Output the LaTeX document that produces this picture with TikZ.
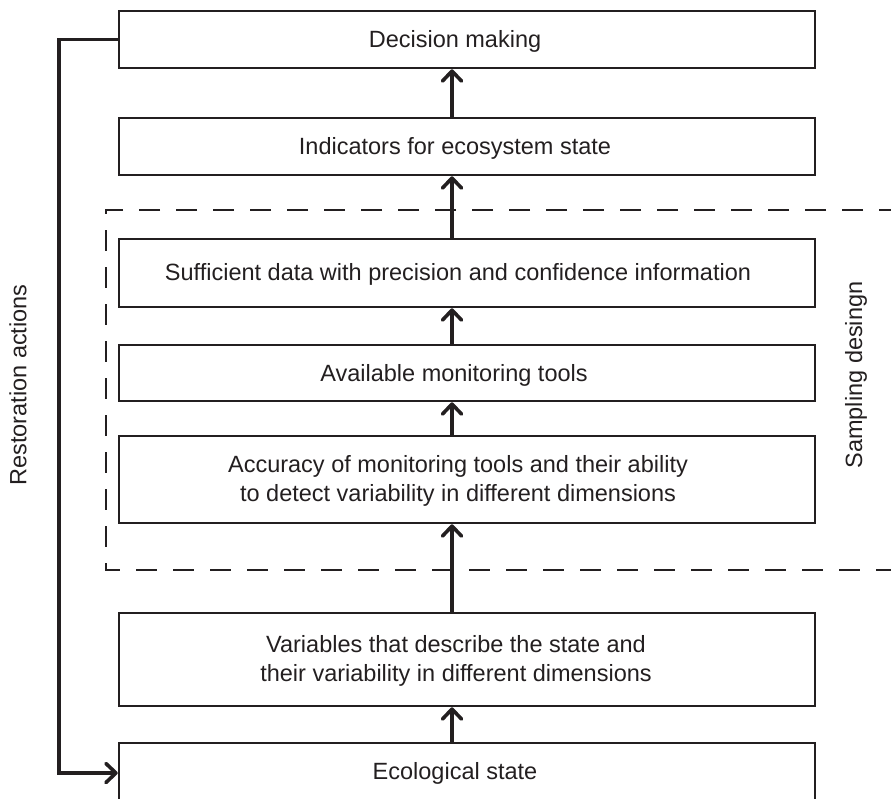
\documentclass[tikz,border=0pt]{standalone}
\usepackage{fontspec}
\setmainfont{Liberation Sans}
\usetikzlibrary{arrows.meta}
\definecolor{ink}{HTML}{231F20}
\begin{document}
\begin{tikzpicture}[x=1pt,y=-1pt,
  boxn/.style={draw=ink,line width=2.5pt,minimum width=696pt,inner sep=0pt},
  lbl/.style={text=ink,font=\fontsize{23.5}{29}\selectfont,align=center,inner sep=0pt},
  arr/.style={draw=ink,line width=3.2pt,-{Straight Barb[length=10pt,width=19pt,line width=3.6pt,round]}},
  dashbox/.style={draw=ink,line width=2.5pt,dash pattern=on 21pt off 16pt}]
\useasboundingbox (0,0) rectangle (891,798);
\begin{scope}
\clip (0,0) rectangle (891,798);
\node[boxn,minimum height=57pt] (b1) at (467,39.5) {};
\node[boxn,minimum height=57pt] (b2) at (467,146.5) {};
\node[boxn,minimum height=68pt] (b3) at (467,273) {};
\node[boxn,minimum height=56pt] (b4) at (467,373) {};
\node[boxn,minimum height=87pt] (b5) at (467,479.5) {};
\node[boxn,minimum height=93pt] (b6) at (467,659.5) {};
\node[boxn,minimum height=60pt] (b7) at (467,773) {};
\draw[dashbox] (900,210) -- (106,210) -- (106,570) -- (900,570);
\end{scope}
\node[lbl] (t1) at (455,41) {Decision making};
\node[lbl] (t2) at (455,148) {Indicators for ecosystem state};
\node[lbl] (t3) at (458,274) {Sufficient data with precision and confidence information};
\node[lbl] (t4) at (454,375) {Available monitoring tools};
\node[lbl] (t5) at (458,481) {Accuracy of monitoring tools and their ability\\ to detect variability in different dimensions};
\node[lbl] (t6) at (456,661) {Variables that describe the state and\\ their variability in different dimensions};
\node[lbl] (t7) at (455,773) {Ecological state};
\node[lbl,rotate=90] (ra) at (18,385) {Restoration actions};
\node[lbl,rotate=90] (sd) at (856,375) {Sampling desingn};
\coordinate (ax) at (452,0);
\draw[arr] (b2.north -| ax) -- (b1.south -| ax);
\draw[arr] (b3.north -| ax) -- (b2.south -| ax);
\draw[arr] (b4.north -| ax) -- (b3.south -| ax);
\draw[arr] (b5.north -| ax) -- (b4.south -| ax);
\draw[arr] (b6.north -| ax) -- (b5.south -| ax);
\draw[arr] (b7.north -| ax) -- (b6.south -| ax);
\coordinate (c1) at (59,39.5);
\draw[arr] (b1.west) -- (c1) |- (b7.west);
\end{tikzpicture}
\end{document}
